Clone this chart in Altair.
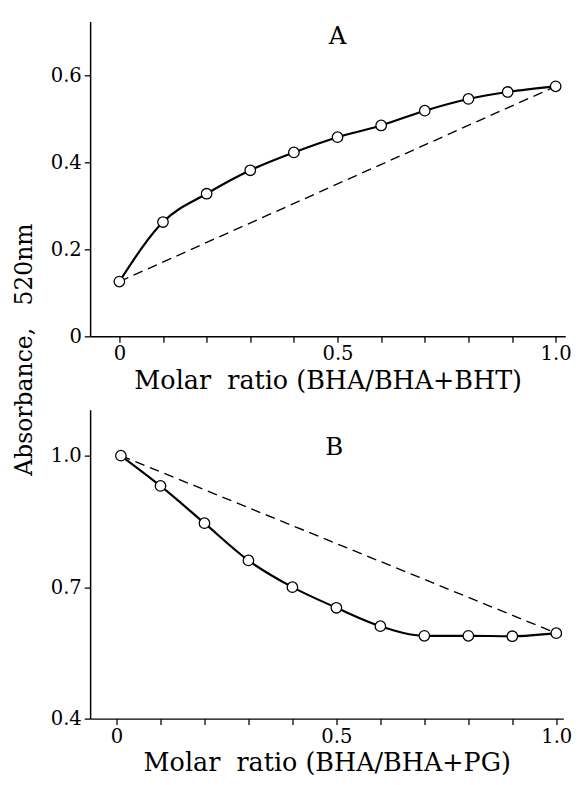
import altair as alt
import pandas as pd

# Panel A: BHA / (BHA + BHT)
ratio_A = [0.0, 0.1, 0.2, 0.3, 0.4, 0.5, 0.6, 0.7, 0.8, 0.89, 1.0]
abs_A = [0.126, 0.263, 0.328, 0.382, 0.423, 0.458, 0.485, 0.519, 0.546, 0.562, 0.575]

# Panel B: BHA / (BHA + PG)
ratio_B = [0.01, 0.1, 0.2, 0.3, 0.4, 0.5, 0.6, 0.7, 0.8, 0.9, 1.0]
abs_B = [1.0, 0.931, 0.846, 0.761, 0.700, 0.653, 0.611, 0.589, 0.589, 0.588, 0.595]

x_ticks = [0.0, 0.1, 0.2, 0.3, 0.4, 0.5, 0.6, 0.7, 0.8, 0.9, 1.0]
y_ticks_A = [0.0, 0.2, 0.4, 0.6]
y_ticks_B = [0.4, 0.7, 1.0]

FONT = "DejaVu Serif"


def panel(xs, ys, xdom, ydom, w, h, yticks, xtitle, letter, letter_xy):
    pts = pd.DataFrame({"x": xs, "y": ys})
    dash = pd.DataFrame({"x": [xs[0], xs[-1]], "y": [ys[0], ys[-1]]})
    xsc = alt.Scale(domain=xdom, nice=False, zero=False)
    ysc = alt.Scale(domain=ydom, nice=False, zero=False)
    xlab = ("abs(datum.value) < 0.01 ? '0' : (abs(datum.value - 0.5) < 0.01 || abs(datum.value - 1) < 0.01)"
            " ? format(datum.value, '.1f') : ''")
    ylab = "abs(datum.value) < 0.001 ? '0' : format(datum.value, '.1f')"
    base_x = alt.X("x:Q", scale=xsc, axis=alt.Axis(values=x_ticks, ticks=True, tickSize=6,
                                                     tickColor="black", tickWidth=1.3, grid=False,
                                                     labelExpr=xlab, title=xtitle,
                                                     labelPadding=2, titlePadding=4))
    base_y = alt.Y("y:Q", scale=ysc, axis=alt.Axis(values=yticks, ticks=True, tickSize=6,
                                                     tickColor="black", tickWidth=1.3, grid=False,
                                                     labelExpr=ylab, title=None, labelPadding=3))
    X = alt.X("x:Q", scale=xsc)
    Y = alt.Y("y:Q", scale=ysc)

    dashed = alt.Chart(dash).mark_line(color="black", strokeWidth=1.4, strokeDash=[10, 6]).encode(x=base_x, y=base_y)
    solid = alt.Chart(pts).mark_line(color="black", strokeWidth=2.2, interpolate="monotone").encode(x=X, y=Y)
    circles = alt.Chart(pts).mark_point(shape="circle", filled=True, fill="white", stroke="black",
                                        strokeWidth=1.3, size=115, opacity=1).encode(x=X, y=Y)
    txt = alt.Chart(pd.DataFrame({"x": [letter_xy[0]], "y": [letter_xy[1]], "t": [letter]})).mark_text(
        font=FONT, fontSize=25, color="black").encode(x=X, y=Y, text="t:N")
    return alt.layer(dashed, solid, circles, txt).properties(width=w, height=h)


pA = panel(ratio_A, abs_A, [-0.067, 1.022], [0.0, 0.724], 486, 322, y_ticks_A,
           "Molar\u00a0\u00a0ratio (BHA/BHA+BHT)", "A", (0.5, 0.69))
pB = panel(ratio_B, abs_B, [-0.06, 1.016], [0.4, 1.105], 484, 316, y_ticks_B,
           "Molar\u00a0\u00a0ratio (BHA/BHA+PG)", "B", (0.495, 1.02))

chart = alt.vconcat(pA, pB, spacing=17).properties(
    title=alt.TitleParams(text="Absorbance,\u00a0\u00a0\u00a0520nm", orient="left", anchor="middle",
                          font=FONT, fontSize=24, fontWeight="normal", color="black",
                          offset=14, dx=50),
    padding={"left": 5, "top": 5, "right": 5, "bottom": 0},
).configure_view(stroke=None).configure_axis(
    domainColor="black", domainWidth=1.5, labelFont=FONT, labelFontSize=20, labelColor="black",
    titleFont=FONT, titleFontSize=26, titleFontWeight="normal", titleColor="black",
)

chart.save("out.html", embed_options={"renderer": "svg", "actions": False})
